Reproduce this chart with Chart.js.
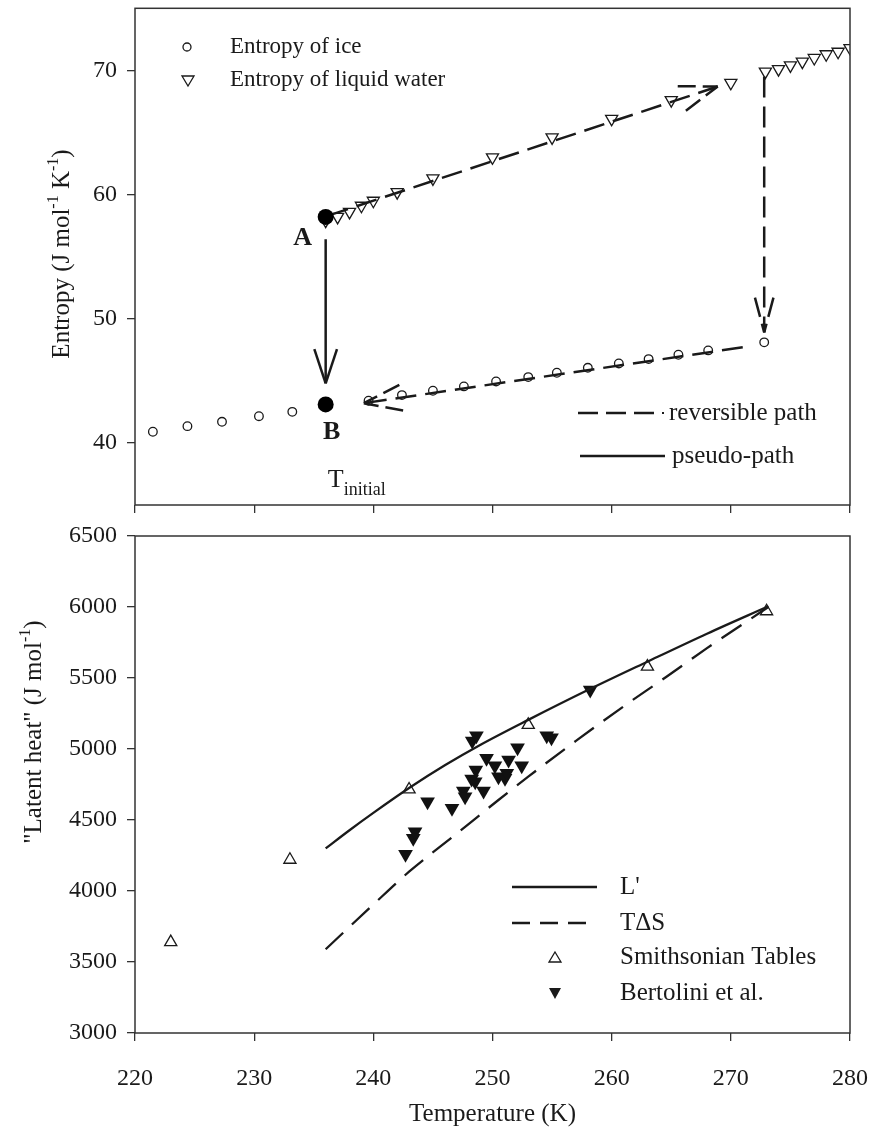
<!DOCTYPE html>
<html>
<head>
<meta charset="utf-8">
<script src="https://cdn.jsdelivr.net/npm/chart.js@4.4.0/dist/chart.umd.min.js"></script>
<style>
  body { margin: 0; background: #fff; }
  #wrap { position: relative; width: 875px; height: 1133px; }
  canvas { position: absolute; left: 0; }
</style>
</head>
<body>
<div id="wrap">
  <canvas id="entropyChart" width="875" height="520" style="top:0"></canvas>
  <canvas id="heatChart" width="875" height="613" style="top:520px"></canvas>
</div>
<script>
// ---- data ----
const xTicks = [220, 230, 240, 250, 260, 270, 280];
const entropyTicks = [40, 50, 60, 70];
const heatTicks = [3000, 3500, 4000, 4500, 5000, 5500, 6000, 6500];

const iceT = [221.5, 224.4, 227.3, 230.4, 233.2, 239.6, 242.4, 245.0, 247.6, 250.3, 253.0, 255.4, 258.0, 260.6, 263.1, 265.6, 268.1, 272.8];
const iceS = [40.9, 41.35, 41.7, 42.15, 42.5, 43.4, 43.85, 44.2, 44.55, 44.95, 45.3, 45.65, 46.05, 46.4, 46.75, 47.1, 47.45, 48.1];

const waterT = [236, 237, 238, 239, 240, 242, 245, 250, 255, 260, 265, 270, 272.9, 274, 275, 276, 277, 278, 279, 280];
const waterS = [57.9, 58.2, 58.6, 59.1, 59.5, 60.2, 61.3, 63.0, 64.6, 66.1, 67.6, 69.0, 69.9, 70.1, 70.4, 70.7, 71.0, 71.3, 71.5, 71.8];

const pointA = [236.0, 58.2];
const pointB = [236.0, 43.1];

// paths (start, arrow tip)
const revWaterPath = [[236.2, 58.3], [268.9, 68.7]];
const meltPath = [[272.8, 69.5], [272.8, 48.9]];
const revIcePath = [[271.0, 47.7], [239.2, 43.2]];
const pseudoPath = [[236.0, 56.4], [236.0, 44.8]];

const smithT = [223, 233, 243, 253, 263, 273];
const smithL = [3640, 4220, 4715, 5170, 5580, 5970];

const bertT = [242.7, 243.35, 243.5, 244.55, 246.6, 247.55, 247.7, 248.25, 248.3, 248.55, 248.6, 248.65, 249.25, 249.5, 250.2, 250.5, 251.05, 251.2, 251.35, 252.1, 252.45, 254.55, 254.95, 258.2];
const bertL = [4258, 4371, 4418, 4629, 4582, 4704, 4664, 4789, 5056, 4770, 4852, 5094, 4704, 4934, 4882, 4805, 4794, 4829, 4923, 5009, 4882, 5094, 5080, 5415];

const lPrimeT = [236, 238, 240, 243, 246, 249, 253, 258, 263, 268, 273.15];
const lPrimeL = [4300, 4428, 4550, 4725, 4885, 5030, 5205, 5415, 5615, 5812, 6005];

const tdsT = [236, 240, 243, 247, 250.5, 253, 257, 261, 264.6, 268, 271.3, 273.15];
const tdsL = [3590, 3905, 4136, 4404, 4641, 4805, 5057, 5300, 5509, 5710, 5896, 6000];

// ---- helpers ----
const SERIF = "'Liberation Serif', 'Times New Roman', serif";
const INK = '#1a1a1a';

function pts(xs, ys) { return xs.map((x, i) => ({ x: x, y: ys[i] })); }
function pathPts(p) { return p.map(q => ({ x: q[0], y: q[1] })); }

function arrowHead(ctx, chart, path, len, spread, dash) {
  const sx = chart.scales.x, sy = chart.scales.y;
  const a = path[path.length - 2], b = path[path.length - 1];
  const x0 = sx.getPixelForValue(a[0]), y0 = sy.getPixelForValue(a[1]);
  const x1 = sx.getPixelForValue(b[0]), y1 = sy.getPixelForValue(b[1]);
  const ang = Math.atan2(y0 - y1, x0 - x1);
  ctx.save();
  ctx.strokeStyle = INK;
  ctx.lineWidth = 2.5;
  ctx.setLineDash(dash);
  [-1, 1].forEach(s => {
    const t = ang + s * spread;
    ctx.beginPath();
    ctx.moveTo(x1 + Math.cos(t) * len, y1 + Math.sin(t) * len);
    ctx.lineTo(x1, y1);
    ctx.stroke();
  });
  ctx.restore();
}

function richWidth(ctx, pieces, size) {
  let w = 0;
  pieces.forEach(p => {
    ctx.font = (p.sup ? Math.round(size * 0.62) : size) + 'px ' + SERIF;
    w += ctx.measureText(p.t).width;
  });
  return w;
}
function drawRich(ctx, pieces, size, cx, cy, rot) {
  ctx.save();
  ctx.translate(cx, cy);
  ctx.rotate(rot);
  ctx.fillStyle = INK;
  ctx.textBaseline = 'alphabetic';
  let x = -richWidth(ctx, pieces, size) / 2;
  pieces.forEach(p => {
    const fs = p.sup ? Math.round(size * 0.62) : size;
    ctx.font = fs + 'px ' + SERIF;
    ctx.fillText(p.t, x, size * 0.35 - (p.sup ? size * 0.42 : 0));
    x += ctx.measureText(p.t).width;
  });
  ctx.restore();
}

function frame(ctx, area) {
  ctx.save();
  ctx.strokeStyle = '#333';
  ctx.lineWidth = 1.5;
  ctx.strokeRect(area.left, area.top, area.right - area.left, area.bottom - area.top);
  ctx.restore();
}

function fixedAxis(size, horizontal) {
  return function (scale) {
    if (horizontal) { scale.height = size; scale.paddingLeft = 0; scale.paddingRight = 0; }
    else { scale.width = size; scale.paddingTop = 0; scale.paddingBottom = 0; }
  };
}
function setTicks(values) {
  return function (scale) { scale.ticks = values.map(v => ({ value: v })); };
}

const gridOpts = { display: true, drawOnChartArea: false, drawTicks: true, tickLength: 8, color: '#333', lineWidth: 1.3 };
const tickFont = { family: SERIF, size: 24 };
const plain = v => String(v);

// ---- top panel: entropy ----
const entropyPlugin = {
  id: 'entropyDecor',
  afterDatasetsDraw(chart) {
    const ctx = chart.ctx, sx = chart.scales.x, sy = chart.scales.y;
    frame(ctx, chart.chartArea);
    arrowHead(ctx, chart, revWaterPath, 40, 0.33, [18, 7]);
    arrowHead(ctx, chart, meltPath, 36, 0.26, [20, 7]);
    arrowHead(ctx, chart, revIcePath, 40, 0.33, [18, 7]);
    arrowHead(ctx, chart, pseudoPath, 36, 0.32, []);

    ctx.save();
    ctx.fillStyle = INK;
    ctx.textBaseline = 'middle';
    const ax = sx.getPixelForValue(pointA[0]), ay = sy.getPixelForValue(pointA[1]);
    const bx = sx.getPixelForValue(pointB[0]), by = sy.getPixelForValue(pointB[1]);
    ctx.font = 'bold 26px ' + SERIF;
    ctx.textAlign = 'center';
    ctx.fillText('A', ax - 23, ay + 21);
    ctx.fillText('B', bx + 6, by + 28);
    ctx.textAlign = 'left';
    ctx.font = '26px ' + SERIF;
    ctx.fillText('T', bx + 2, by + 76);
    ctx.font = '18px ' + SERIF;
    ctx.fillText('initial', bx + 18, by + 86);

    // legend, upper left
    ctx.font = '23px ' + SERIF;
    ctx.fillText('Entropy of ice', 230, 47);
    ctx.fillText('Entropy of liquid water', 230, 80);
    ctx.lineWidth = 1.3;
    ctx.strokeStyle = INK;
    ctx.beginPath();
    ctx.arc(187, 47, 4, 0, Math.PI * 2);
    ctx.stroke();
    ctx.beginPath();
    ctx.moveTo(182, 76); ctx.lineTo(194, 76); ctx.lineTo(188, 86); ctx.closePath();
    ctx.stroke();

    // legend, lower right
    ctx.font = '25px ' + SERIF;
    ctx.fillText('reversible path', 669, 413);
    ctx.fillText('pseudo-path', 672, 456);
    ctx.lineWidth = 2.5;
    ctx.setLineDash([20, 8]);
    ctx.beginPath(); ctx.moveTo(578, 413); ctx.lineTo(656, 413); ctx.stroke();
    ctx.setLineDash([]);
    ctx.fillRect(662, 412, 2, 2);
    ctx.beginPath(); ctx.moveTo(580, 456); ctx.lineTo(665, 456); ctx.stroke();
    ctx.restore();

    drawRich(ctx, [
      { t: 'Entropy (J mol' }, { t: '-1', sup: true }, { t: ' K' }, { t: '-1', sup: true }, { t: ')' }
    ], 25, 60, 254, -Math.PI / 2);
  }
};

const dashTop = [21, 9];
new Chart(document.getElementById('entropyChart'), {
  type: 'scatter',
  data: {
    datasets: [
      { data: pts(iceT, iceS), pointStyle: 'circle', pointRadius: 4.3, borderWidth: 1.3,
        borderColor: INK, backgroundColor: '#fff', order: 2 },
      { data: pts(waterT, waterS), pointStyle: 'triangle', rotation: 180, pointRadius: 7, borderWidth: 1.3,
        borderColor: INK, backgroundColor: '#fff', order: 2 },
      { data: pathPts(revWaterPath), showLine: true, pointRadius: 0, borderColor: INK, borderWidth: 2.5, borderDash: dashTop, order: 1 },
      { data: pathPts(meltPath), showLine: true, pointRadius: 0, borderColor: INK, borderWidth: 2.5, borderDash: dashTop, order: 1 },
      { data: pathPts(revIcePath), showLine: true, pointRadius: 0, borderColor: INK, borderWidth: 2.5, borderDash: dashTop, order: 1 },
      { data: pathPts(pseudoPath), showLine: true, pointRadius: 0, borderColor: INK, borderWidth: 2.5, order: 1 },
      { data: [{ x: pointA[0], y: pointA[1] }, { x: pointB[0], y: pointB[1] }], pointStyle: 'circle', pointRadius: 8,
        borderWidth: 0, backgroundColor: '#000', order: 0 }
    ]
  },
  options: {
    responsive: false,
    animation: false,
    layout: { padding: { left: 0, right: 25, top: 7, bottom: 0 } },
    plugins: { legend: { display: false }, tooltip: { enabled: false } },
    scales: {
      x: {
        type: 'linear', min: 220, max: 280,
        afterBuildTicks: setTicks(xTicks), afterFit: fixedAxis(15, true),
        grid: gridOpts, border: { display: false },
        ticks: { callback: () => '', font: tickFont }
      },
      y: {
        type: 'linear', min: 35, max: 75,
        afterBuildTicks: setTicks(entropyTicks), afterFit: fixedAxis(135, false),
        grid: gridOpts, border: { display: false },
        ticks: { color: INK, font: tickFont, padding: 10, callback: plain }
      }
    }
  },
  plugins: [entropyPlugin]
});

// ---- bottom panel: latent heat ----
const heatPlugin = {
  id: 'heatDecor',
  afterDatasetsDraw(chart) {
    const ctx = chart.ctx;
    const area = chart.chartArea;
    frame(ctx, area);
    ctx.save();
    ctx.fillStyle = INK;
    ctx.strokeStyle = INK;
    ctx.textBaseline = 'middle';
    ctx.font = '25px ' + SERIF;
    ctx.fillText("L'", 620, 367);
    ctx.fillText('T\u0394S', 620, 403);
    ctx.fillText('Smithsonian Tables', 620, 437);
    ctx.fillText('Bertolini et al.', 620, 473);
    ctx.lineWidth = 2.3;
    ctx.beginPath(); ctx.moveTo(512, 367); ctx.lineTo(597, 367); ctx.stroke();
    ctx.setLineDash([18, 10]);
    ctx.beginPath(); ctx.moveTo(512, 403); ctx.lineTo(588, 403); ctx.stroke();
    ctx.setLineDash([]);
    ctx.lineWidth = 1.3;
    ctx.beginPath(); ctx.moveTo(555, 432); ctx.lineTo(561, 442); ctx.lineTo(549, 442); ctx.closePath(); ctx.stroke();
    ctx.beginPath(); ctx.moveTo(549, 468); ctx.lineTo(561, 468); ctx.lineTo(555, 479); ctx.closePath(); ctx.fill();

    ctx.font = '25px ' + SERIF;
    ctx.textAlign = 'center';
    ctx.fillText('Temperature (K)', (area.left + area.right) / 2, 594);
    ctx.restore();

    drawRich(ctx, [
      { t: '"Latent heat" (J mol' }, { t: '-1', sup: true }, { t: ')' }
    ], 25, 32, 212, -Math.PI / 2);
  }
};

new Chart(document.getElementById('heatChart'), {
  type: 'scatter',
  data: {
    datasets: [
      { data: pts(smithT, smithL), pointStyle: 'triangle', pointRadius: 7, borderWidth: 1.3,
        borderColor: INK, backgroundColor: '#fff', order: 2 },
      { data: pts(bertT, bertL), pointStyle: 'triangle', rotation: 180, pointRadius: 8.5, borderWidth: 0,
        backgroundColor: '#111', order: 2 },
      { data: pts(lPrimeT, lPrimeL), showLine: true, cubicInterpolationMode: 'monotone', pointRadius: 0,
        borderColor: INK, borderWidth: 2.3, order: 1 },
      { data: pts(tdsT, tdsL), showLine: true, cubicInterpolationMode: 'monotone', pointRadius: 0,
        borderColor: INK, borderWidth: 2.3, borderDash: [24, 12], order: 1 }
    ]
  },
  options: {
    responsive: false,
    animation: false,
    layout: { padding: { left: 0, right: 25, top: 16, bottom: 0 } },
    plugins: { legend: { display: false }, tooltip: { enabled: false } },
    scales: {
      x: {
        type: 'linear', min: 220, max: 280,
        afterBuildTicks: setTicks(xTicks), afterFit: fixedAxis(100, true),
        grid: gridOpts, border: { display: false },
        ticks: { color: INK, font: tickFont, padding: 23, maxRotation: 0, callback: plain }
      },
      y: {
        type: 'linear', min: 3000, max: 6500,
        afterBuildTicks: setTicks(heatTicks), afterFit: fixedAxis(135, false),
        grid: gridOpts, border: { display: false },
        ticks: { color: INK, font: tickFont, padding: 10, callback: plain }
      }
    }
  },
  plugins: [heatPlugin]
});
</script>
</body>
</html>
